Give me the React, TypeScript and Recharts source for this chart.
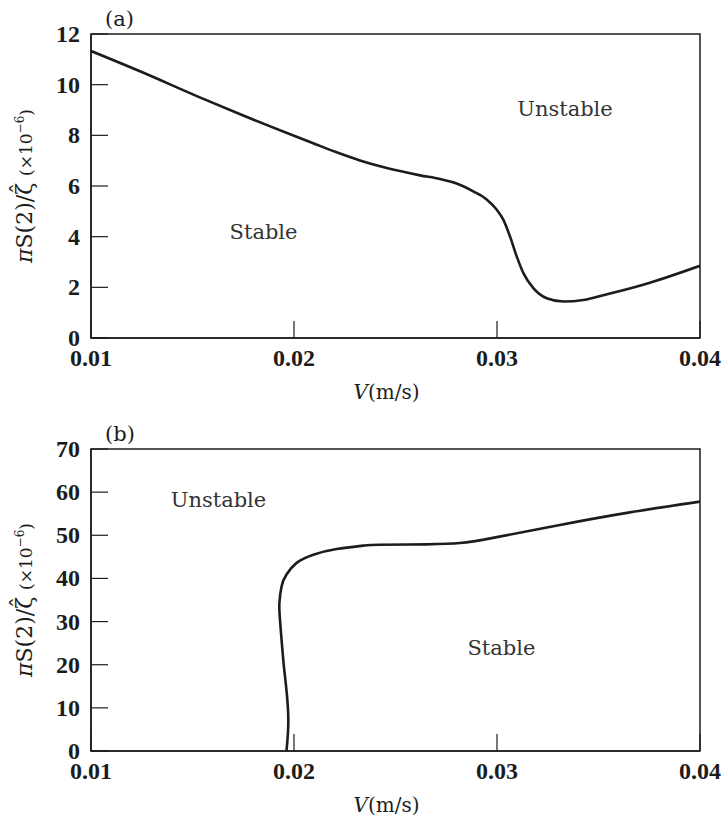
import React from 'react';
import {
  ComposedChart, Line, Scatter, XAxis, YAxis, ReferenceArea,
} from 'recharts';

// Panel (a): stability boundary vs. towing speed
const speedA = [0.01, 0.0125, 0.0153, 0.0175, 0.01975, 0.021, 0.022, 0.02325, 0.02424, 0.02522, 0.02621, 0.02719, 0.02801, 0.02883, 0.02949, 0.02998, 0.03031, 0.03064, 0.03097, 0.0313, 0.03179, 0.03245, 0.03327, 0.03425, 0.03499, 0.0372, 0.04];
const boundaryA = [11.33, 10.5, 9.52, 8.78, 8.06, 7.67, 7.36, 7.01, 6.78, 6.59, 6.42, 6.28, 6.1, 5.79, 5.47, 5.07, 4.67, 4.01, 3.22, 2.56, 1.97, 1.57, 1.44, 1.5, 1.64, 2.1, 2.85];

// Panel (b): boundary folds back near V = 0.02
const speedB = [0.01963, 0.01972, 0.01961, 0.01947, 0.01931, 0.01928, 0.01939, 0.01963, 0.02013, 0.02095, 0.0221, 0.02341, 0.02423, 0.02655, 0.02818, 0.0298, 0.0331, 0.0364, 0.04];
const boundaryB = [0, 7.3, 15, 21.2, 30.4, 34.3, 38.2, 40.9, 43.6, 45.5, 46.8, 47.6, 47.8, 47.9, 48.2, 49.4, 52.4, 55.2, 57.8];

const xTicks = [0.01, 0.02, 0.03, 0.04];
const yTicksA = [0, 2, 4, 6, 8, 10, 12];
const yTicksB = [0, 10, 20, 30, 40, 50, 60, 70];

const regionTextA = ['Stable', 'Unstable'];
const regionSpeedA = [0.0185, 0.03335];
const regionValueA = [4.2, 9.03];
const regionTextB = ['Unstable', 'Stable'];
const regionSpeedB = [0.01628, 0.03022];
const regionValueB = [58.2, 23.9];

const zip = (xs: number[], ys: number[]) => xs.map((v, i) => ({ v, s: ys[i] }));
const regions = (t: string[], xs: number[], ys: number[]) => t.map((text, i) => ({ text, v: xs[i], s: ys[i] }));

const SERIF = '"DejaVu Serif", serif';
const TICK_FONT = '"Liberation Serif", serif';
const INK = '#1c1c1c';

const XTick = ({ x, y, payload }: any) => (
  <text x={x} y={y + 18} textAnchor="middle" fill={INK} fontSize={24} fontFamily={TICK_FONT} fontWeight="bold">
    {Number(payload.value).toFixed(2)}
  </text>
);

const YTick = ({ x, y, payload }: any) => (
  <text x={x} y={y + 8} textAnchor="end" fill={INK} fontSize={24} fontFamily={TICK_FONT} fontWeight="bold">
    {payload.value}
  </text>
);

const RegionText = (props: any) => (
  <text x={props.cx} y={props.cy} dy={7} textAnchor="middle" fill="#333" fontSize={21} fontFamily={SERIF}>
    {props.payload.text}
  </text>
);

const YTitle = ({ viewBox }: any) => {
  const x = viewBox.x + 1;
  const y = viewBox.y + viewBox.height / 2;
  return (
    <text x={x} y={y} transform={`rotate(-90, ${x}, ${y})`} textAnchor="middle" fill={INK} fontFamily={SERIF} fontSize={22}>
      <tspan fontStyle="italic">π</tspan>S(2)/ζ
      <tspan dx={-11} dy={-5}>ˆ</tspan>
      <tspan dy={5}> </tspan>
      <tspan fontSize={17}>(×10</tspan>
      <tspan fontSize={12} dy={-8}>−6</tspan>
      <tspan fontSize={17} dy={8}>)</tspan>
    </text>
  );
};

const XTitle = ({ viewBox }: any) => (
  <text x={viewBox.x + viewBox.width / 2 - 9} y={viewBox.y + 61} textAnchor="middle" fill={INK} fontFamily={SERIF} fontSize={20}>
    <tspan fontStyle="italic">V</tspan>(m/s)
  </text>
);

const panelTag = (tag: string) => ({ viewBox }: any) => (
  <text x={viewBox.x + 14} y={viewBox.y - 8} fill={INK} fontFamily={SERIF} fontSize={21}>{tag}</text>
);

interface PanelProps {
  tag: string;
  height: number;
  margin: { top: number; right: number; bottom: number; left: number };
  yMax: number;
  yTicks: number[];
  curve: { v: number; s: number }[];
  curveType: 'monotone' | 'natural';
  notes: { text: string; v: number; s: number }[];
}

const Panel = ({ tag, height, margin, yMax, yTicks, curve, curveType, notes }: PanelProps) => (
  <ComposedChart width={721} height={height} margin={margin}>
    <XAxis
      type="number"
      dataKey="v"
      domain={[0.01, 0.04]}
      ticks={xTicks}
      allowDataOverflow
      tick={<XTick />}
      tickSize={-17}
      tickMargin={27}
      tickLine={{ stroke: INK, strokeWidth: 1.2 }}
      axisLine={{ stroke: INK, strokeWidth: 1.5 }}
      height={30}
      label={XTitle}
    />
    <YAxis
      type="number"
      dataKey="s"
      domain={[0, yMax]}
      ticks={yTicks}
      allowDataOverflow
      tick={<YTick />}
      tickSize={-17}
      tickMargin={28}
      tickLine={{ stroke: INK, strokeWidth: 1.2 }}
      axisLine={{ stroke: INK, strokeWidth: 1.5 }}
      width={60}
      label={YTitle}
    />
    <ReferenceArea x1={0.01} x2={0.04} y1={0} y2={yMax} fill="none" stroke={INK} strokeWidth={1.5} label={panelTag(tag)} />
    <Line
      data={curve}
      dataKey="s"
      type={curveType}
      stroke={INK}
      strokeWidth={2.6}
      dot={false}
      activeDot={false}
      isAnimationActive={false}
    />
    <Scatter data={notes} dataKey="s" shape={RegionText} isAnimationActive={false} />
  </ComposedChart>
);

export default function App() {
  return (
    <div style={{ position: 'absolute', left: 0, top: 0, width: 721, height: 821, background: '#fff' }}>
      <div style={{ position: 'absolute', left: 0, top: 0 }}>
        <Panel
          tag="(a)"
          height={410}
          margin={{ top: 34, right: 21, bottom: 42, left: 31 }}
          yMax={12}
          yTicks={yTicksA}
          curve={zip(speedA, boundaryA)}
          curveType="monotone"
          notes={regions(regionTextA, regionSpeedA, regionValueA)}
        />
      </div>
      <div style={{ position: 'absolute', left: 0, top: 410 }}>
        <Panel
          tag="(b)"
          height={411}
          margin={{ top: 39, right: 21, bottom: 40, left: 31 }}
          yMax={70}
          yTicks={yTicksB}
          curve={zip(speedB, boundaryB)}
          curveType="natural"
          notes={regions(regionTextB, regionSpeedB, regionValueB)}
        />
      </div>
    </div>
  );
}
